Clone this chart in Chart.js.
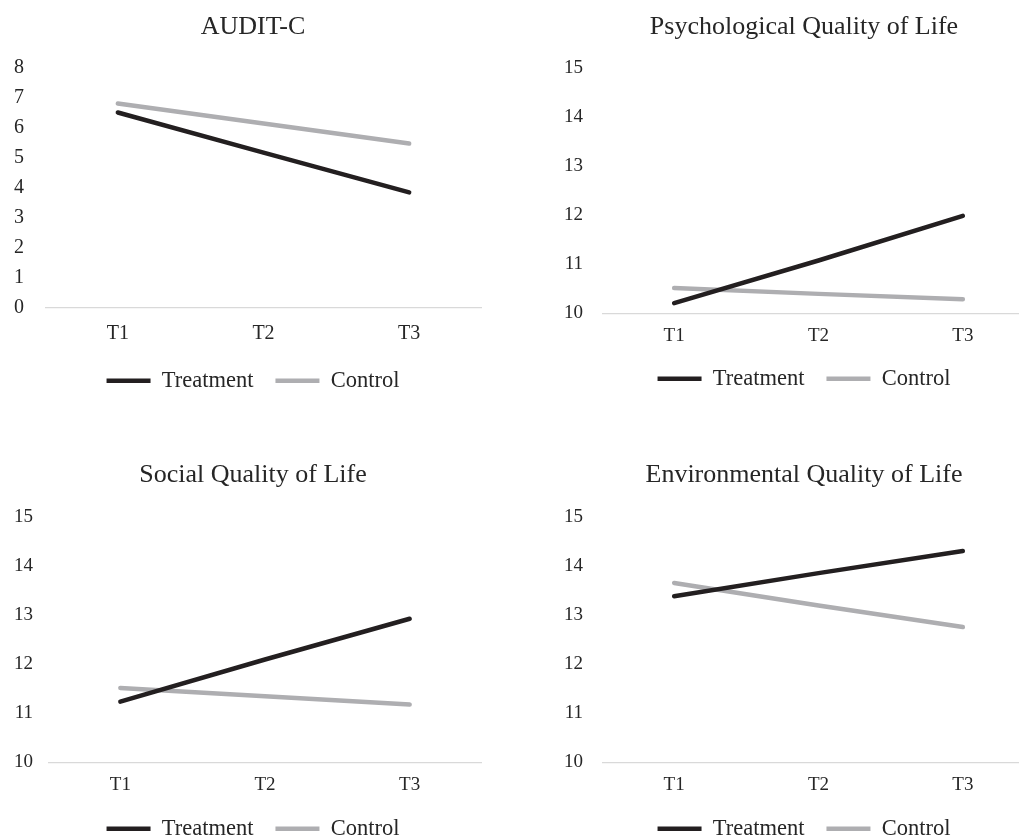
<!DOCTYPE html>
<html>
<head>
<meta charset="utf-8">
<script src="https://cdn.jsdelivr.net/npm/chart.js@4.4.1/dist/chart.umd.min.js"></script>
<style>
  html, body { margin: 0; padding: 0; background: #fff; width: 1019px; height: 836px; overflow: hidden; position: relative; }
  canvas { position: absolute; }
</style>
</head>
<body>
<canvas id="auditChart" width="506" height="402" style="left:0;top:0"></canvas>
<canvas id="psychChart" width="608" height="400" style="left:500px;top:0"></canvas>
<canvas id="socialChart" width="506" height="402" style="left:0;top:448px"></canvas>
<canvas id="envChart" width="608" height="402" style="left:500px;top:448px"></canvas>
<script>
// data
const timepoints = ['T1', 'T2', 'T3'];
const seriesNames = ['Treatment', 'Control'];

const auditTreatment = [6.52, 5.18, 3.85];
const auditControl = [6.82, 6.15, 5.48];
const psychTreatment = [10.21, 11.08, 11.99];
const psychControl = [10.52, 10.40, 10.29];
const socialTreatment = [11.24, 12.10, 12.93];
const socialControl = [11.52, 11.35, 11.18];
const envTreatment = [13.39, 13.86, 14.31];
const envControl = [13.66, 13.20, 12.76];

const auditRange = [0, 8];
const qolRange = [10, 15];

const FONT = "'Liberation Serif', 'Times New Roman', serif";
const TEXT = '#262626';
const colors = { treatment: '#231f20', control: '#aeaeb1', axis: '#d9d9d9' };

function makeDataset(label, data, color) {
  return {
    label,
    data,
    yAxisID: 'y',
    borderColor: color,
    backgroundColor: color,
    borderWidth: 4.5,
    borderCapStyle: 'round',
    pointRadius: 0,
    pointHoverRadius: 0,
    pointStyle: 'line',
    tension: 0,
    fill: false,
  };
}

function makeChart(id, title, treatment, control, range, geo) {
  const ctx = document.getElementById(id);
  return new Chart(ctx, {
    type: 'line',
    data: {
      labels: timepoints,
      datasets: [
        makeDataset(seriesNames[0], treatment, colors.treatment),
        makeDataset(seriesNames[1], control, colors.control),
      ],
    },
    options: {
      responsive: false,
      animation: false,
      devicePixelRatio: 1,
      layout: { padding: 0 },
      plugins: {
        title: {
          display: true,
          text: title,
          color: TEXT,
          font: { family: FONT, size: 26, weight: 'normal', lineHeight: 1.2 },
          padding: { top: geo.titleTop, bottom: geo.titleBottom },
        },
        legend: {
          display: true,
          position: 'bottom',
          labels: {
            color: TEXT,
            font: { family: FONT, size: 22.5 },
            usePointStyle: true,
            pointStyle: 'line',
            pointStyleWidth: 44,
            padding: 22,
          },
        },
        tooltip: { enabled: false },
      },
      scales: {
        x: {
          offset: true,
          grid: { display: false, drawTicks: false },
          border: { display: false },
          ticks: {
            color: TEXT,
            font: { family: FONT, size: geo.tickSize, lineHeight: 1 },
            padding: geo.xPad,
          },
          afterFit: (s) => { s.height = geo.xHeight; },
        },
        y: {
          min: range[0],
          max: range[1],
          border: { display: false },
          grid: {
            drawTicks: false,
            lineWidth: 1.3,
            color: (c) => (c.tick && c.tick.value === range[0] ? colors.axis : 'rgba(0,0,0,0)'),
          },
          ticks: {
            stepSize: 1,
            color: TEXT,
            font: { family: FONT, size: geo.tickSize },
            padding: geo.tickPad,
          },
          afterFit: (s) => { s.width = geo.yWidth; },
        },
        // empty spacer on the right so title and legend centre like the original
        spacer: {
          position: 'right',
          display: true,
          grid: { display: false, drawTicks: false },
          border: { display: false },
          ticks: { display: false },
          afterFit: (s) => { s.width = geo.rightWidth; },
        },
      },
    },
  });
}

makeChart('auditChart', 'AUDIT-C', auditTreatment, auditControl, auditRange,
  { yWidth: 45, tickPad: 21, rightWidth: 24, titleTop: 12, titleBottom: 25, xHeight: 40, xPad: 16, tickSize: 20 });
makeChart('psychChart', 'Psychological Quality of Life', psychTreatment, psychControl, qolRange,
  { yWidth: 102, tickPad: 19, rightWidth: 73, titleTop: 12, titleBottom: 25, xHeight: 32, xPad: 13.5, tickSize: 19 });
makeChart('socialChart', 'Social Quality of Life', socialTreatment, socialControl, qolRange,
  { yWidth: 48, tickPad: 15, rightWidth: 24, titleTop: 12, titleBottom: 26, xHeight: 33, xPad: 13.5, tickSize: 19 });
makeChart('envChart', 'Environmental Quality of Life', envTreatment, envControl, qolRange,
  { yWidth: 102, tickPad: 19, rightWidth: 73, titleTop: 12, titleBottom: 26, xHeight: 33, xPad: 13.5, tickSize: 19 });
</script>
</body>
</html>
